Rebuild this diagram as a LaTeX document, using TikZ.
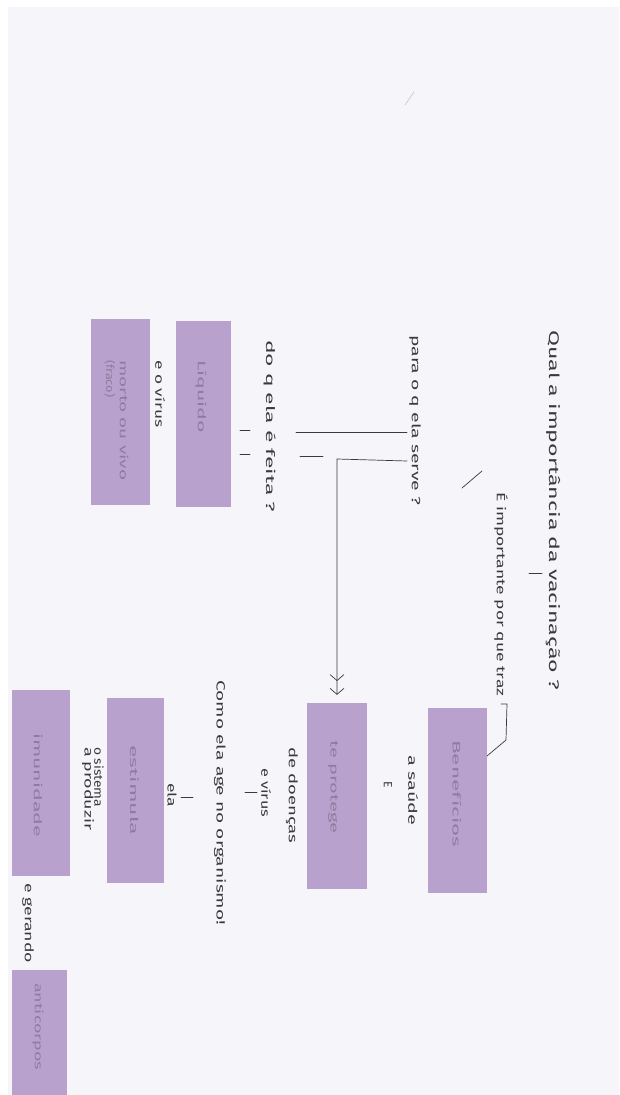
\documentclass[tikz,border=0pt]{standalone}
\usepackage{fontspec}
\setmainfont{Fira Sans}
\usetikzlibrary{arrows.meta}
\definecolor{paper}{HTML}{F6F5FA}
\definecolor{lilac}{HTML}{B8A2CD}
\definecolor{ink}{HTML}{3A3A3E}
\definecolor{boxink}{HTML}{8E7CA0}
% stretch a label to a given run length, keeping its height
\newcommand{\hw}[2]{\resizebox{#1}{\height}{#2}}
\tikzset{
  hand/.style={rotate=-90, anchor=west, inner sep=0pt, text=ink,
    font=\fontsize{12}{12}\selectfont},
  bigtitle/.style={hand, font=\fontsize{14}{14}\selectfont},
  boxlabel/.style={rotate=-90, anchor=west, inner sep=0pt, text=boxink,
    font=\fontsize{11}{11}\selectfont},
  cbox/.style={fill=lilac, draw=none, inner sep=0pt},
  stroke/.style={draw=ink, line width=0.7pt, line cap=round},
}
\begin{document}
\begin{tikzpicture}[x=1pt,y=-1pt]
\useasboundingbox (0,0) rectangle (619,1095);
\fill[white] (0,0) rectangle (619,1095);
\fill[paper] (8,7) rectangle (619,1095);
\draw[gray!45, line width=0.6pt] (405,105) -- (414,92);

% boxes
\node[cbox, minimum width=59pt, minimum height=185pt] (benef) at (457.5,800.5) {};
\node[cbox, minimum width=60pt, minimum height=186pt] (protege) at (337,796) {};
\node[cbox, minimum width=55pt, minimum height=186pt] (liquido) at (203.5,414) {};
\node[cbox, minimum width=59pt, minimum height=186pt] (morto) at (120.5,412) {};
\node[cbox, minimum width=57pt, minimum height=185pt] (estimula) at (135.5,790.5) {};
\node[cbox, minimum width=58pt, minimum height=186pt] (imun) at (41,783) {};
\node[cbox, minimum width=55pt, minimum height=125pt] (anti) at (39.5,1032.5) {};

% box labels
\node[boxlabel] (benef-t) at (457,740) {\hw{107pt}{Benefícios}};
\node[boxlabel] (protege-t) at (333,740) {\hw{93pt}{te protege}};
\node[boxlabel] (liquido-t) at (201,360) {\hw{73pt}{Líquido}};
\node[boxlabel] (morto-t) at (124,360) {\hw{120pt}{morto ou vivo}};
\node[boxlabel] (fraco-t) at (110,360) {\hw{37pt}{(fraco)}};
\node[boxlabel] (estimula-t) at (135,745) {\hw{90pt}{estimula}};
\node[boxlabel] (imun-t) at (38,733) {\hw{104pt}{imunidade}};
\node[boxlabel] (anti-t) at (38,983) {\hw{87pt}{anticorpos}};

% handwritten labels
\node[bigtitle] (title) at (553,330) {\hw{360pt}{Qual a importância da vacinação ?}};
\node[hand] (imp) at (501,492) {\hw{204pt}{É importante por que traz}};
\node[hand] (serve) at (415,335) {\hw{170pt}{para o q ela serve ?}};
\node[hand] (feita) at (270,340) {\hw{172pt}{do q ela é feita ?}};
\node[hand] (virus1) at (160,360) {\hw{67pt}{e o vírus}};
\node[hand] (saude) at (413,755) {\hw{70pt}{a saúde}};
\node[hand] (e1) at (388,781) {E};
\node[hand] (doencas) at (292,747) {\hw{96pt}{de doenças}};
\node[hand] (virus2) at (266,768) {\hw{49pt}{e vírus}};
\node[hand] (como) at (220,680) {\hw{245pt}{Como ela age no organismo!}};
\node[hand] (ela) at (172,783) {\hw{24pt}{ela}};
\node[hand] (sistema) at (99,747) {\hw{60pt}{o sistema}};
\node[hand] (produzir) at (88,747) {\hw{83pt}{a produzir}};
\node[hand] (gerando) at (28,883) {\hw{80pt}{e gerando}};

% connector ends
\coordinate (t1a) at (529,573); \coordinate (t1b) at (542,573);
\coordinate (sl1) at (462,488); \coordinate (sl2) at (482,471);
\coordinate (tz0) at (501,704); \coordinate (tz1) at (507,704);
\coordinate (tz2) at (506,740); \coordinate (tz3) at (487,756);
\coordinate (la1) at (407,432); \coordinate (la2) at (296,432);
\coordinate (lb1) at (323,456); \coordinate (lb2) at (300,456);
\coordinate (lc1) at (407,461); \coordinate (lc2) at (337,459);
\coordinate (q1a) at (240,430); \coordinate (q1b) at (250,430);
\coordinate (q2a) at (240,454); \coordinate (q2b) at (250,454);
\coordinate (d1a) at (245,792); \coordinate (d1b) at (257,792);
\coordinate (d2a) at (181,797); \coordinate (d2b) at (193,797);

% connectors
\draw[stroke] (t1a) -- (t1b);
\draw[stroke] (sl1) -- (sl2);
\draw[stroke] (tz0) -- (tz1) -- (tz2) -- (tz3);
\draw[stroke] (la1) -- (la2);
\draw[stroke] (lb1) -- (lb2);
\draw[stroke, -{Straight Barb[length=6pt,width=14pt,sep=7pt]Straight Barb[length=6pt,width=14pt]}]
  (lc1) -- (lc2) -- ([yshift=8pt]protege.north);
\draw[stroke] (q1a) -- (q1b);
\draw[stroke] (q2a) -- (q2b);
\draw[stroke] (d1a) -- (d1b);
\draw[stroke] (d2a) -- (d2b);
\end{tikzpicture}
\end{document}
